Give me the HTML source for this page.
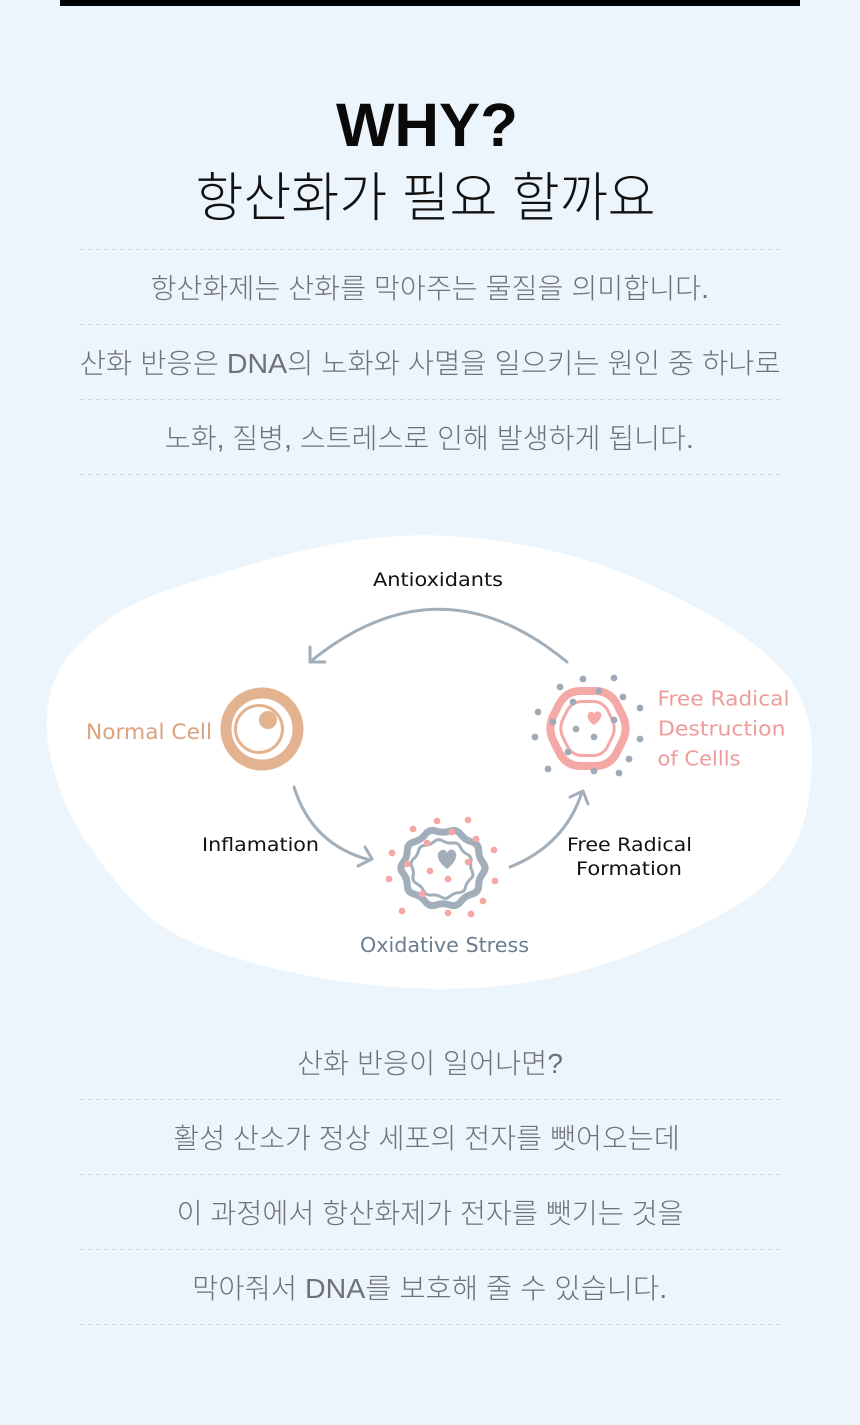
<!DOCTYPE html>
<html>
<head>
<meta charset="utf-8">
<style>
html,body{margin:0;padding:0;background:#ecf4fc;width:860px;height:1425px;overflow:hidden}
svg{display:block}
.kr{font-family:"Liberation Sans","Noto Sans CJK KR",sans-serif;font-weight:300;fill:#6f7176;font-size:28px}
.lbl{font-family:"DejaVu Sans","Liberation Sans",sans-serif}
</style>
</head>
<body>
<svg width="860" height="1425" viewBox="0 0 860 1425" xmlns="http://www.w3.org/2000/svg">
  <rect x="0" y="0" width="860" height="1425" fill="#ecf4fc"/>
  <!-- top bar -->
  <rect x="60" y="0" width="740" height="6" fill="#000"/>

  <!-- Title -->
  <text x="336" y="146" font-family="Liberation Sans, sans-serif" font-weight="700" font-size="61" fill="#0a0a0a" textLength="182" lengthAdjust="spacingAndGlyphs">WHY?</text>
  <text x="195.5" y="216" font-family="Liberation Sans, Noto Sans CJK KR, sans-serif" font-weight="300" font-size="53" fill="#111" textLength="460" lengthAdjust="spacingAndGlyphs">항산화가 필요 할까요</text>

  <!-- dashed lines -->
  <g stroke="#cdd3db" stroke-width="1" stroke-dasharray="4 4">
    <line x1="80" y1="249.5" x2="780" y2="249.5"/>
    <line x1="80" y1="324.5" x2="780" y2="324.5"/>
    <line x1="80" y1="399.5" x2="780" y2="399.5"/>
    <line x1="80" y1="474.5" x2="780" y2="474.5"/>
    <line x1="80" y1="1099.5" x2="780" y2="1099.5"/>
    <line x1="80" y1="1174.5" x2="780" y2="1174.5"/>
    <line x1="80" y1="1249.5" x2="780" y2="1249.5"/>
    <line x1="80" y1="1324.5" x2="780" y2="1324.5"/>
  </g>

  <!-- top paragraph -->
  <text class="kr" x="150.5" y="298" textLength="558.5" lengthAdjust="spacingAndGlyphs">항산화제는 산화를 막아주는 물질을 의미합니다.</text>
  <text class="kr" x="79.8" y="373" textLength="701" lengthAdjust="spacingAndGlyphs">산화 반응은 DNA의 노화와 사멸을 일으키는 원인 중 하나로</text>
  <text class="kr" x="164.8" y="448" textLength="529" lengthAdjust="spacingAndGlyphs">노화, 질병, 스트레스로 인해 발생하게 됩니다.</text>

  <!-- blob -->
  <path fill="#ffffff" d="M384,537 Q438,532 499,541 Q560,550 601.5,565 Q643,580 685,601.5 Q727,623 757,646.5 Q787,670 798.5,693.5 Q810,717 811.5,738.5 Q813,760 810,788.5 Q807,817 798.5,837 Q790,857 775,875 Q760,893 726.5,911.5 Q693,930 660,943.5 Q627,957 593.5,967.5 Q560,978 516.5,984 Q473,990 423,988.5 Q373,987 323,978.5 Q273,970 223,954 Q173,938 148,915.5 Q123,893 96.5,856.5 Q70,820 60,790 Q50,760 47.5,740 Q45,720 49,698.5 Q53,677 66.5,658.5 Q80,640 105,621.5 Q130,603 166.5,590.5 Q203,578 266.5,560 Q330,542 384,537 Z"/>

  <!-- arrows -->
  <g fill="none" stroke="#a2afba" stroke-width="3" stroke-linecap="round" stroke-linejoin="round">
    <path d="M567,662 Q440,557 311,661"/>
    <path d="M310,647 L310,662 L325,662"/>
    <path d="M294,787 Q312,845 370,860"/>
    <path d="M358,866 L372,859 L365,847"/>
    <path d="M510,867 Q565,845 582,792"/>
    <path d="M570,797 L583,791 L588,804"/>
  </g>

  <!-- Normal cell -->
  <g fill="none" stroke="#e3b390">
    <circle cx="262" cy="729" r="36" stroke-width="11"/>
    <circle cx="259" cy="729" r="23.5" stroke-width="3"/>
  </g>
  <circle cx="268" cy="720" r="9" fill="#e3b390"/>

  <!-- Oxidative stress cell -->
  <g fill="none" stroke="#a2afba">
    <path transform="translate(443,868) scale(0.96)" vector-effect="non-scaling-stroke" stroke-width="7" d="M41.55,-5.55 Q46,0 41.55,5.55 Q37.1,11.1 37.15,18.2 Q37.2,25.3 30.05,27.2 Q22.9,29.1 18.55,35 Q14.2,40.9 7.1,38.45 Q0,36 -7.1,38.45 Q-14.2,40.9 -18.55,35 Q-22.9,29.1 -30.05,27.2 Q-37.2,25.3 -37.15,18.2 Q-37.1,11.1 -41.55,5.55 Q-46,0 -41.55,-5.55 Q-37.1,-11.1 -37.15,-18.2 Q-37.2,-25.3 -30.05,-27.2 Q-22.9,-29.1 -18.55,-35 Q-14.2,-40.9 -7.1,-38.45 Q0,-36 7.1,-38.45 Q14.2,-40.9 18.55,-35 Q22.9,-29.1 30.05,-27.2 Q37.2,-25.3 37.15,-18.2 Q37.1,-11.1 41.55,-5.55 Z"/>
    <path transform="translate(442,869) rotate(12) scale(0.72)" vector-effect="non-scaling-stroke" stroke-width="3" d="M41.55,-5.55 Q46,0 41.55,5.55 Q37.1,11.1 37.15,18.2 Q37.2,25.3 30.05,27.2 Q22.9,29.1 18.55,35 Q14.2,40.9 7.1,38.45 Q0,36 -7.1,38.45 Q-14.2,40.9 -18.55,35 Q-22.9,29.1 -30.05,27.2 Q-37.2,25.3 -37.15,18.2 Q-37.1,11.1 -41.55,5.55 Q-46,0 -41.55,-5.55 Q-37.1,-11.1 -37.15,-18.2 Q-37.2,-25.3 -30.05,-27.2 Q-22.9,-29.1 -18.55,-35 Q-14.2,-40.9 -7.1,-38.45 Q0,-36 7.1,-38.45 Q14.2,-40.9 18.55,-35 Q22.9,-29.1 30.05,-27.2 Q37.2,-25.3 37.15,-18.2 Q37.1,-11.1 41.55,-5.55 Z"/>
  </g>
  <path fill="#a2afba" d="M447,869 C439,863 435,855 440,851 C443,848.5 446,850 447,853 C448.5,849.5 452.5,848 455,851.5 C458.5,856 454,864 447,869 Z"/>
  <g fill="#f6a8a6">
    <circle cx="437" cy="821" r="3.4"/><circle cx="468" cy="820" r="3.4"/><circle cx="413" cy="829" r="3.4"/>
    <circle cx="452" cy="832" r="3.4"/><circle cx="476" cy="839" r="3.4"/><circle cx="427" cy="843" r="3.4"/>
    <circle cx="494" cy="850" r="3.4"/><circle cx="392" cy="853" r="3.4"/><circle cx="468" cy="862" r="3.4"/>
    <circle cx="407" cy="864" r="3.4"/><circle cx="430" cy="871" r="3.4"/><circle cx="448" cy="879" r="3.4"/>
    <circle cx="389" cy="879" r="3.4"/><circle cx="495" cy="881" r="3.4"/><circle cx="422" cy="894" r="3.4"/>
    <circle cx="483" cy="901" r="3.4"/><circle cx="402" cy="911" r="3.4"/><circle cx="448" cy="913" r="3.4"/>
    <circle cx="471" cy="914" r="3.4"/>
  </g>

  <!-- Free radical destruction cell -->
  <g fill="none" stroke="#f4a9a7" stroke-linejoin="round">
    <path stroke-width="8" d="M553.9,714.7 L559.1,704.3 Q566,691 581,691 L595,691 Q610,691 616.9,704.3 L622.1,714.7 Q629,728 622.3,741.4 L616.7,752.6 Q610,766 595,766 L581,766 Q566,766 559.3,752.6 L553.7,741.4 Q547,728 553.9,714.7 Z"/>
    <path transform="translate(587.5,728.5) scale(0.71,0.72) translate(-588,-728.5)" vector-effect="non-scaling-stroke" stroke-width="3" d="M553.9,714.7 L559.1,704.3 Q566,691 581,691 L595,691 Q610,691 616.9,704.3 L622.1,714.7 Q629,728 622.3,741.4 L616.7,752.6 Q610,766 595,766 L581,766 Q566,766 559.3,752.6 L553.7,741.4 Q547,728 553.9,714.7 Z"/>
  </g>
  <path fill="#f4a9a7" d="M594,725 C587,721 586,714 590,712 C592,711 593.5,712 594,714 C595,711.5 598,710.5 600.5,712.5 C603,716 599,722 594,725 Z"/>
  <g fill="#9eabb7">
    <circle cx="560" cy="687" r="3.4"/><circle cx="583" cy="679" r="3.4"/><circle cx="614" cy="678" r="3.4"/>
    <circle cx="599" cy="691" r="3.4"/><circle cx="623" cy="697" r="3.4"/><circle cx="538" cy="712" r="3.4"/>
    <circle cx="573" cy="702" r="3.4"/><circle cx="640" cy="708" r="3.4"/><circle cx="553" cy="722" r="3.4"/>
    <circle cx="614" cy="720" r="3.4"/><circle cx="576" cy="729" r="3.4"/><circle cx="594" cy="737" r="3.4"/>
    <circle cx="535" cy="737" r="3.4"/><circle cx="640" cy="739" r="3.4"/><circle cx="568" cy="752" r="3.4"/>
    <circle cx="629" cy="759" r="3.4"/><circle cx="548" cy="769" r="3.4"/><circle cx="594" cy="771" r="3.4"/>
    <circle cx="619" cy="773" r="3.4"/>
  </g>

  <!-- diagram labels -->
  <text class="lbl" x="373" y="586" font-size="19" fill="#111" textLength="130" lengthAdjust="spacingAndGlyphs">Antioxidants</text>
  <text class="lbl" x="86" y="739" font-size="21" fill="#dca27e" textLength="126" lengthAdjust="spacingAndGlyphs">Normal Cell</text>
  <text class="lbl" x="202" y="851" font-size="19" fill="#111" textLength="117" lengthAdjust="spacingAndGlyphs">Inflamation</text>
  <text class="lbl" x="567" y="851" font-size="19" fill="#111" textLength="125" lengthAdjust="spacingAndGlyphs">Free Radical</text>
  <text class="lbl" x="576" y="875" font-size="19" fill="#111" textLength="106" lengthAdjust="spacingAndGlyphs">Formation</text>
  <text class="lbl" x="657.5" y="705.5" font-size="20.5" fill="#ee9c9a" textLength="132" lengthAdjust="spacingAndGlyphs">Free Radical</text>
  <text class="lbl" x="658" y="735.5" font-size="20.5" fill="#ee9c9a" textLength="127.5" lengthAdjust="spacingAndGlyphs">Destruction</text>
  <text class="lbl" x="657.5" y="765.5" font-size="20.5" fill="#ee9c9a" textLength="83" lengthAdjust="spacingAndGlyphs">of Cellls</text>
  <text class="lbl" x="360" y="952" font-size="20.5" fill="#6b7c8e" textLength="169" lengthAdjust="spacingAndGlyphs">Oxidative Stress</text>

  <!-- bottom paragraph -->
  <text class="kr" x="297" y="1073" textLength="266" lengthAdjust="spacingAndGlyphs">산화 반응이 일어나면?</text>
  <text class="kr" x="173.3" y="1148" textLength="506.5" lengthAdjust="spacingAndGlyphs">활성 산소가 정상 세포의 전자를 뺏어오는데</text>
  <text class="kr" x="176.6" y="1223" textLength="507" lengthAdjust="spacingAndGlyphs">이 과정에서 항산화제가 전자를 뺏기는 것을</text>
  <text class="kr" x="192.2" y="1298" textLength="475" lengthAdjust="spacingAndGlyphs">막아줘서 DNA를 보호해 줄 수 있습니다.</text>
</svg>
</body>
</html>
